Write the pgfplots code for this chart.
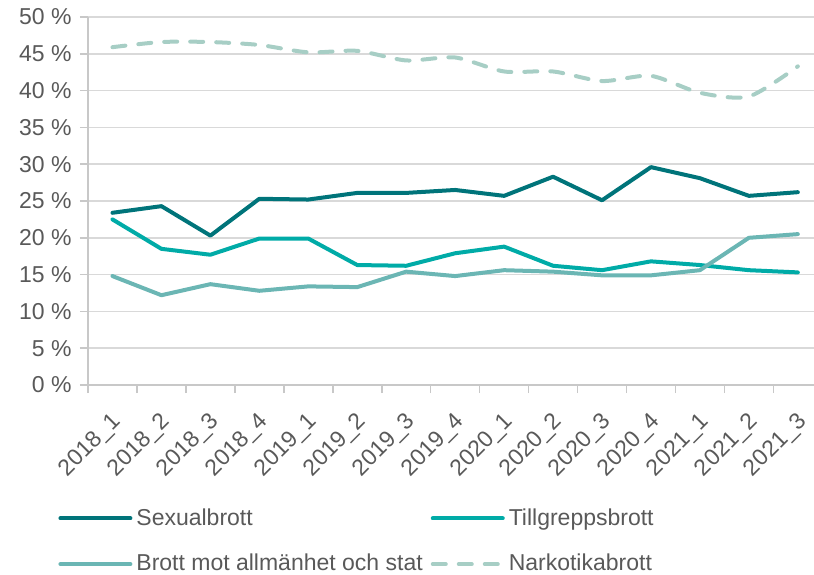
\documentclass[border=0pt]{standalone}
\usepackage{fontspec}
\setmainfont{Liberation Sans}
\usepackage{pgfplots}
\pgfplotsset{compat=1.18}
\definecolor{cSex}{HTML}{00747A}
\definecolor{cTill}{HTML}{00ABA7}
\definecolor{cBrott}{HTML}{6BB6B4}
\definecolor{cNark}{HTML}{A7CEC5}
\definecolor{textgray}{HTML}{595959}
\definecolor{gridgray}{HTML}{D9D9D9}
\definecolor{axgray}{HTML}{C8C8C8}
\begin{document}
\begin{tikzpicture}
\useasboundingbox (-44pt,-94.5pt) rectangle (363pt,192.5pt);
\begin{axis}[
  name=ax, at={(0,0)}, anchor=south west,
  scale only axis, width=363pt, height=184pt,
  xmin=-0.5, xmax=14.33, ymin=0, ymax=50,
  axis x line*=bottom, axis y line*=left,
  axis line style={draw=axgray, line width=0.8pt},
  xtick={0,...,14},
  xticklabels={2018\_1,2018\_2,2018\_3,2018\_4,2019\_1,2019\_2,2019\_3,2019\_4,2020\_1,2020\_2,2020\_3,2020\_4,2021\_1,2021\_2,2021\_3},
  major x tick style={draw=none},
  minor xtick={-0.5,0.5,...,13.5},
  minor x tick style={draw=axgray, line width=0.8pt},
  minor tick length=4pt,
  tick align=outside,
  ytick={0,5,...,50},
  yticklabels={0 \%,5 \%,10 \%,15 \%,20 \%,25 \%,30 \%,35 \%,40 \%,45 \%,50 \%},
  major tick length=4pt,
  y tick style={draw=axgray, line width=0.8pt},
  ymajorgrids, grid style={draw=gridgray, line width=0.8pt},
  tick label style={font=\fontsize{11.5}{13}\selectfont, text=textgray},
  xticklabel style={xshift=-1pt, yshift=-7.5pt, rotate=45, anchor=north east, inner sep=1pt},
  yticklabel style={inner sep=2pt, xshift=-2pt},
  every axis plot/.append style={line width=2pt, line join=round, line cap=round},
  legend columns=2,
  legend cell align=left,
  legend image code/.code={\draw[#1] (0pt,0pt) -- (35pt,0pt);},
  legend style={at={(-0.0413,-0.324)}, anchor=north west, draw=none, fill=none,
    font=\fontsize{11.5}{13}\selectfont, text=textgray, inner sep=0pt,
    row sep=9pt, /tikz/column 2/.style={column sep=2pt}},
]
\addplot[cSex] coordinates {(0,23.4)(1,24.3)(2,20.3)(3,25.3)(4,25.2)(5,26.1)(6,26.1)(7,26.5)(8,25.7)(9,28.3)(10,25.1)(11,29.6)(12,28.1)(13,25.7)(14,26.2)};
\addlegendentry{Sexualbrott}
\addplot[cTill] coordinates {(0,22.5)(1,18.5)(2,17.7)(3,19.9)(4,19.9)(5,16.3)(6,16.2)(7,17.9)(8,18.8)(9,16.2)(10,15.6)(11,16.8)(12,16.3)(13,15.6)(14,15.3)};
\addlegendentry{Tillgreppsbrott}
\addplot[cBrott] coordinates {(0,14.8)(1,12.2)(2,13.7)(3,12.8)(4,13.4)(5,13.3)(6,15.4)(7,14.8)(8,15.6)(9,15.4)(10,14.9)(11,14.9)(12,15.6)(13,20.0)(14,20.5)};
\addlegendentry{Brott mot allmänhet och stat}
\addplot[cNark, smooth, tension=0.45, dash pattern=on 6.5pt off 6.5pt] coordinates {(0,45.9)(1,46.6)(2,46.6)(3,46.2)(4,45.2)(5,45.4)(6,44.1)(7,44.5)(8,42.6)(9,42.6)(10,41.3)(11,42.0)(12,39.7)(13,39.2)(14,43.3)};
\addlegendentry{Narkotikabrott}
\end{axis}
\end{tikzpicture}
\end{document}
